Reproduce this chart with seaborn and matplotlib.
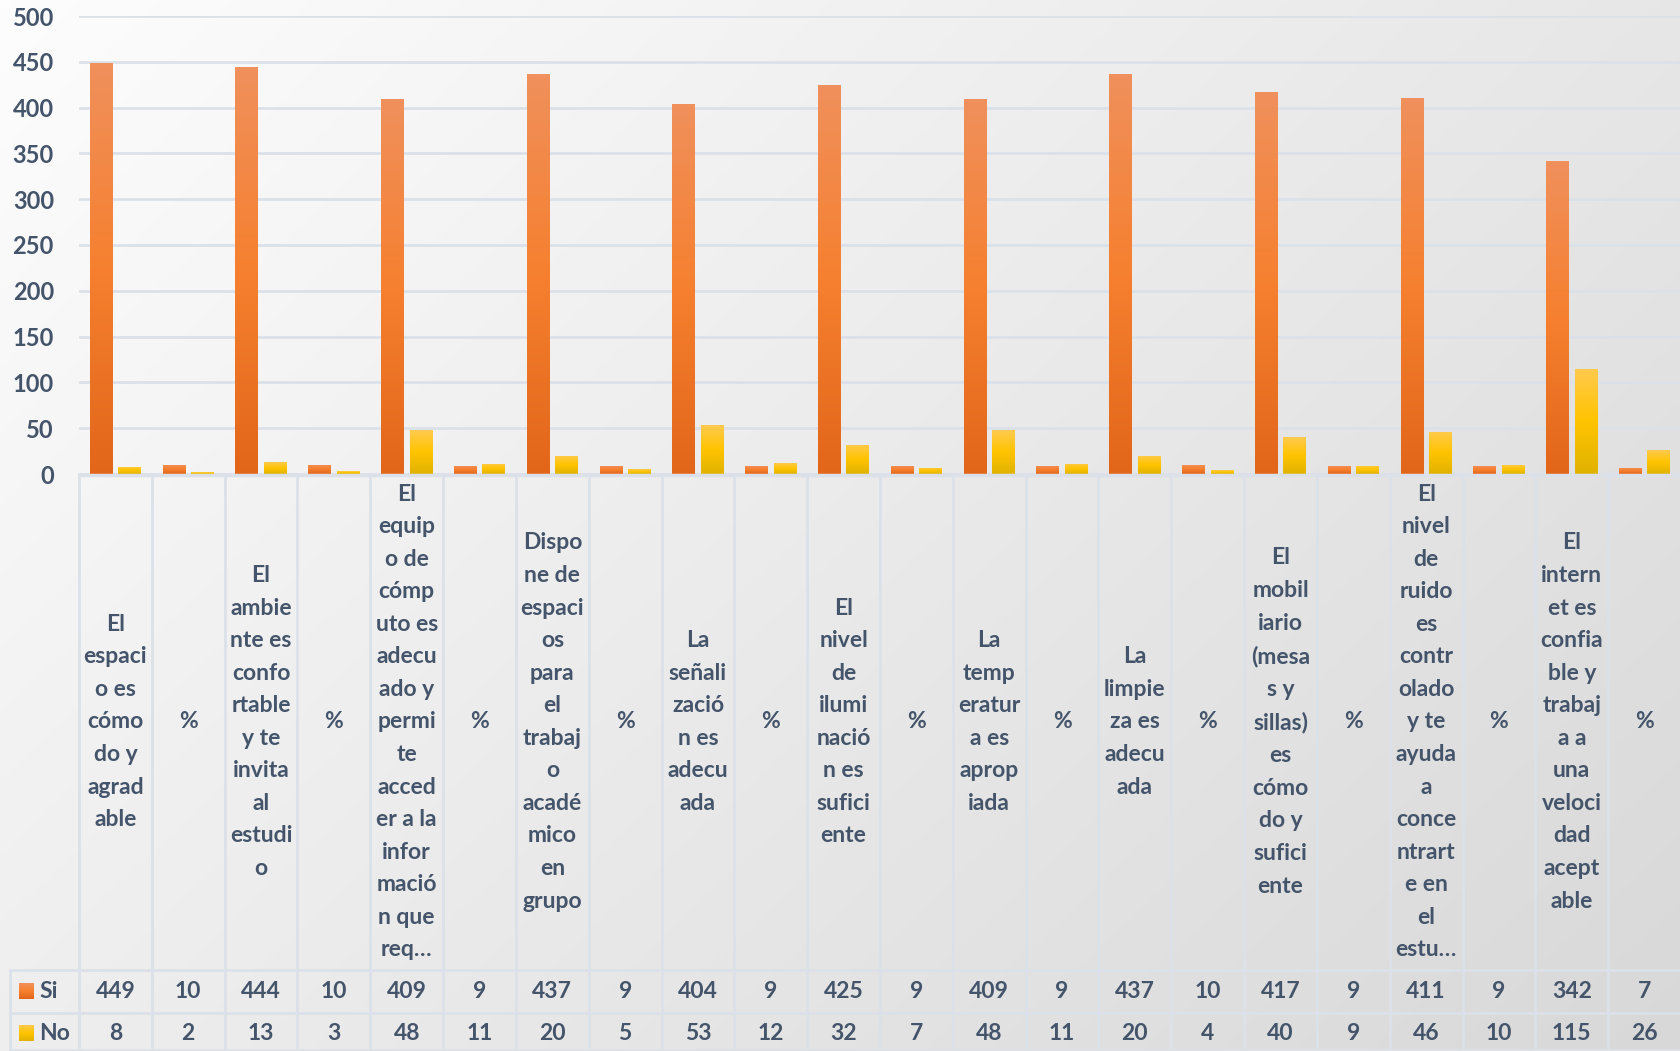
import numpy as np
import pandas as pd
import seaborn as sns
import matplotlib.pyplot as plt
from matplotlib.colors import LinearSegmentedColormap

labels = [
    "El\nespaci\no es\ncómo\ndo y\nagrad\nable", "%",
    "El\nambie\nnte es\nconfo\nrtable\ny te\ninvita\nal\nestudi\no", "%",
    "El\nequip\no de\ncómp\nuto es\nadecu\nado y\npermi\nte\nacced\ner a la\ninfor\nmació\nn que\nreq…", "%",
    "Dispo\nne de\nespaci\nos\npara\nel\ntrabaj\no\nacadé\nmico\nen\ngrupo", "%",
    "La\nseñali\nzació\nn es\nadecu\nada", "%",
    "El\nnivel\nde\nilumi\nnació\nn es\nsufici\nente", "%",
    "La\ntemp\neratur\na es\naprop\niada", "%",
    "La\nlimpie\nza es\nadecu\nada", "%",
    "El\nmobil\niario\n(mesa\ns y\nsillas)\nes\ncómo\ndo y\nsufici\nente", "%",
    "El\nnivel\nde\nruido\nes\ncontr\nolado\ny te\nayuda\na\nconce\nntrart\ne en\nel\nestu…", "%",
    "El\nintern\net es\nconfia\nble y\ntrabaj\na a\nuna\nveloci\ndad\nacept\nable", "%",
]
si = [449, 10, 444, 10, 409, 9, 437, 9, 404, 9, 425, 9, 409, 9, 437, 10, 417, 9, 411, 9, 342, 7]
no = [8, 2, 13, 3, 48, 11, 20, 5, 53, 12, 32, 7, 48, 11, 20, 4, 40, 9, 46, 10, 115, 26]
series = ["Si", "No"]

sns.set_theme(style="white")
plt.rcParams['font.family'] = ['Lato', 'DejaVu Sans']
txt = "#44546A"
grid = "#DCE1E9"
fs = 16.5

# gradients (bottom -> top)
cm_si = LinearSegmentedColormap.from_list("si", ["#E2661A", "#F6802F", "#F0905C"])
cm_no = LinearSegmentedColormap.from_list("no", ["#E0B200", "#FFC400", "#FFCA4E"])

W, H = 1681, 1051
fig = plt.figure(figsize=(W / 100, H / 100), dpi=100)

# background
bg = fig.add_axes([0, 0, 1, 1])
yy, xx = np.mgrid[0:1:200j, 0:1:300j]
bg.imshow(0.6 * xx + 0.4 * yy, cmap=LinearSegmentedColormap.from_list("bg", ["#FDFDFD", "#D8D8D8"]),
          aspect="auto", extent=[0, 1, 0, 1], origin="upper")
bg.axis("off")

x0 = 79 / W
ax = fig.add_axes([x0, 1 - 474 / H, 1 - x0, (474 - 16) / H])
ax.patch.set_alpha(0)

cols = [f"c{i}" for i in range(len(labels))]
df = pd.DataFrame({"col": cols * 2,
                   "serie": ["Si"] * len(si) + ["No"] * len(no),
                   "valor": si + no})
sns.barplot(df, x="col", y="valor", hue="serie", order=cols, hue_order=series,
            palette=["#F58231", "#FFC000"], width=0.78, gap=0.2, saturation=1,
            legend=False, ax=ax, zorder=3)

grad = np.linspace(0, 1, 100).reshape(-1, 1)
for cont, cm in zip(ax.containers, [cm_si, cm_no]):
    for p in cont.patches:
        bx, by, bw, bh = p.get_x(), p.get_y(), p.get_width(), p.get_height()
        im = ax.imshow(grad, extent=[bx, bx + bw, by, by + bh], origin="lower",
                       cmap=cm, aspect="auto", zorder=3)
        im.set_clip_path(p)
        p.set_facecolor("none")
        p.set_edgecolor("none")

ax.set_xlim(-0.5, len(labels) - 0.5)
ax.set_ylim(0, 500)
ax.set_yticks(range(0, 501, 50))
ax.set_xticks([])
ax.set_xlabel("")
ax.set_ylabel("")
ax.yaxis.grid(True, color=grid, lw=2)
ax.set_axisbelow(True)
for s in ax.spines.values():
    s.set_visible(False)
ax.tick_params(axis="y", length=0, pad=18, labelsize=fs + 0.5, labelcolor=txt)
for t in ax.get_yticklabels():
    t.set_fontweight("bold")

# data table
tab = fig.add_axes([x0, 0, 1 - x0, (H - 474) / H])
tab.patch.set_alpha(0)
tab.set_xlim(-0.5, len(labels) - 0.5)
tab.set_ylim(H, 474)
tab.axis("off")
colw = (W - 79) / len(labels)
xl = -0.5 - (79 - 10) / colw

def px(x):
    return -0.5 + (x - 79) / colw

for b in np.arange(-0.5, len(labels), 1.0):
    tab.plot([b, b], [474, H], color=grid, lw=2, clip_on=False)
tab.plot([-0.5, len(labels) - 0.5], [475, 475], color=grid, lw=2.5, clip_on=False)
for yv in [970, 1013, H - 1]:
    tab.plot([xl, len(labels) - 0.5], [yv, yv], color=grid, lw=2, clip_on=False)
tab.plot([xl, xl], [970, H], color=grid, lw=2, clip_on=False)

for i, lab in enumerate(labels):
    tab.text(i, 722, lab, ha="center", va="center", multialignment="center",
             fontsize=fs, fontweight="bold", color=txt, linespacing=1.68)
    tab.text(i, 992, str(si[i]), ha="center", va="center",
             fontsize=fs, fontweight="bold", color=txt)
    tab.text(i, 1033, str(no[i]), ha="center", va="center",
             fontsize=fs, fontweight="bold", color=txt)

for name, cm, yc in [("Si", cm_si, 991), ("No", cm_no, 1033)]:
    tab.imshow(grad, extent=[px(19), px(34), yc + 8, yc - 8], origin="lower",
               cmap=cm, aspect="auto", clip_on=False)
    tab.text(px(39), yc + 1, name, ha="left", va="center",
             fontsize=fs, fontweight="bold", color=txt)
tab.set_xlim(-0.5, len(labels) - 0.5)
tab.set_ylim(H, 474)

fig.savefig("out.png", dpi=100)
